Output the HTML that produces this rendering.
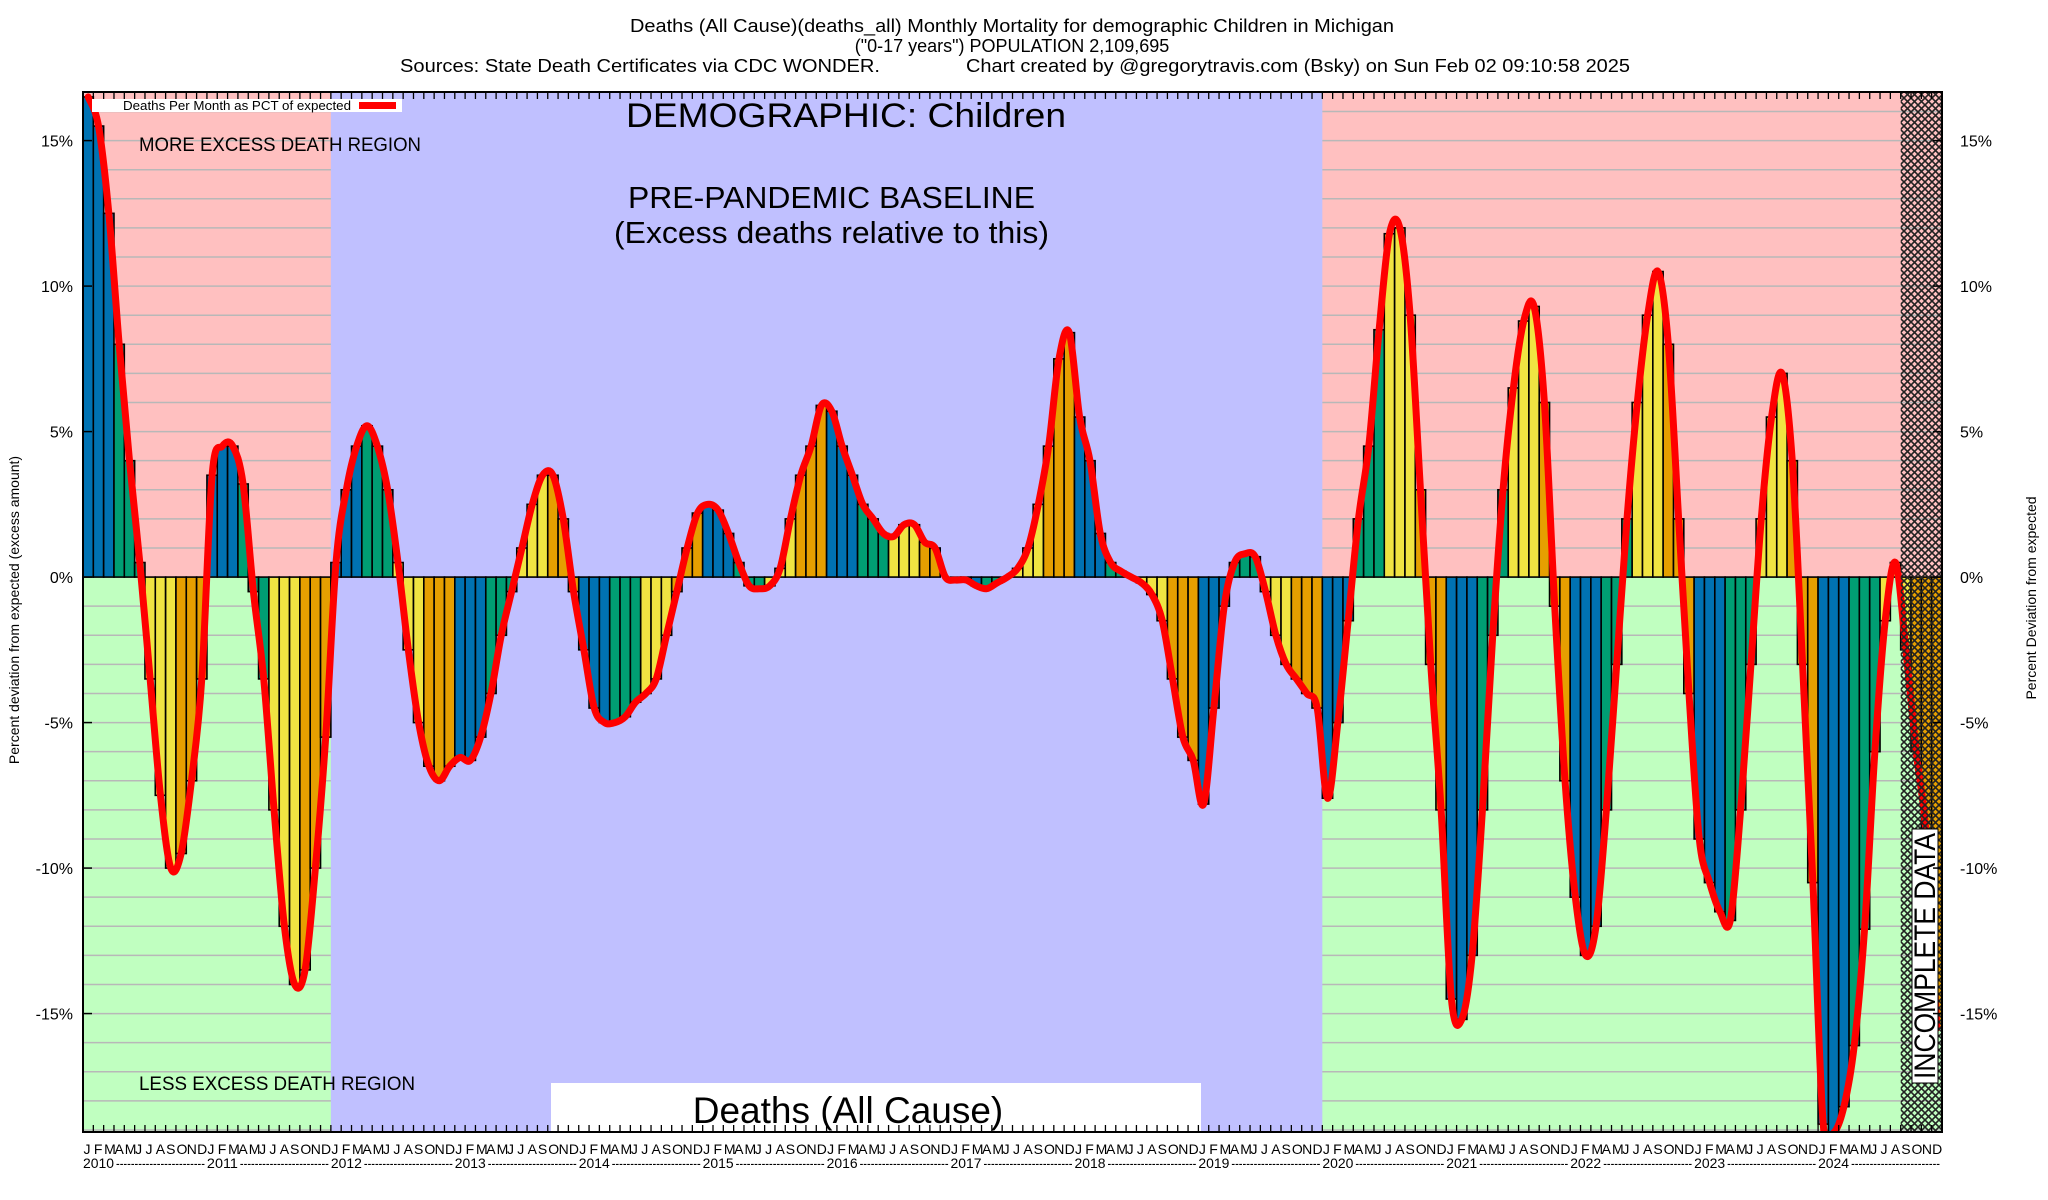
<!DOCTYPE html>
<html><head><meta charset="utf-8"><style>
html,body{margin:0;padding:0;background:#fff;}
svg{display:block;font-family:"Liberation Sans",sans-serif;}
</style></head><body>
<svg id="chart" width="2048" height="1200" viewBox="0 0 2048 1200" xmlns="http://www.w3.org/2000/svg">
<defs>
<pattern id="hatch" width="7" height="7" patternUnits="userSpaceOnUse">
<path d="M0,0 L7,7 M7,0 L0,7" stroke="#222" stroke-width="1.6"/>
</pattern>
<clipPath id="plotclip"><rect x="83" y="92" width="1859" height="1040"/></clipPath>
</defs>
<g font-size="18" text-anchor="middle">
<text x="1012" y="32" textLength="764" lengthAdjust="spacingAndGlyphs">Deaths (All Cause)(deaths_all) Monthly Mortality for demographic Children in Michigan</text>
<text x="1012" y="52">("0-17 years") POPULATION 2,109,695</text>
<text x="400" y="72" text-anchor="start" textLength="480" lengthAdjust="spacingAndGlyphs">Sources: State Death Certificates via CDC WONDER.</text>
<text x="966" y="72" text-anchor="start" textLength="664" lengthAdjust="spacingAndGlyphs">Chart created by @gregorytravis.com (Bsky) on Sun Feb 02 09:10:58 2025</text>
</g>
<g id="bg" clip-path="url(#plotclip)"></g>
<g id="bars" clip-path="url(#plotclip)"></g>
<g id="line" clip-path="url(#plotclip)"></g>
<g id="overlay"></g>
<g id="axes"></g>
</svg>
<script>
const years = ["2010","2011","2012","2013","2014","2015","2016","2017","2018","2019","2020","2021","2022","2023","2024"];
const monthLetters = ["J","F","M","A","M","J","J","A","S","O","N","D"];
const values2010_2014 = [
16.5,15.5,12.5,8,4,0.5,-3.5,-7.5,-10,-9.5,-7,-3.5,
3.5,4.5,4.5,3.2,-0.5,-3.5,-8,-12,-14,-13.5,-10,-5.5,
0.5,3,4.5,5.2,4.5,3,0.5,-2.5,-5,-6.5,-7,-6.5,
-6.2,-6.3,-5.5,-4,-2,-0.5,1,2.5,3.5,3.5,2,-0.5,
-2.5,-4.5,-5,-5,-4.8,-4.3,-4,-3.5,-2,-0.5,1,2.2];
const values2015_2019 = [
2.5,2.3,1.5,0.5,-0.3,-0.4,-0.3,0.3,2,3.5,4.5,5.9,
5.7,4.5,3.5,2.5,2,1.5,1.4,1.8,1.8,1.2,1,0,
-0.1,-0.1,-0.3,-0.4,-0.2,0,0.3,1,2.5,4.5,7.5,8.4,
5.5,4,1.5,0.5,0.2,0,-0.2,-0.6,-1.5,-3.5,-5.5,-6.3,
-7.8,-4.5,-1,0.5,0.8,0.7,-0.5,-2,-3,-3.5,-4,-4.5];
const values2020_2024 = [
-7.6,-5,-1.5,2,4.5,8.5,11.8,12,9,3,-3,-8,
-14.5,-15.2,-13,-8,-2,3,6.5,8.8,9.3,6,-1,-7,
-11,-13,-12,-8,-3,2,6,9,10.5,8,2,-4,
-9,-10.5,-11.5,-11.8,-8,-3,2,5.5,7,4,-3,-10.5,
-18.8,-19.1,-18.2,-16.1,-12.1,-6,-1.5,0.5,-2.5,-6,-9,-15.5];
const yTicks = [15,10,5,0,-5,-10,-15];
const values = values2010_2014.concat(values2015_2019, values2020_2024);

const NS = "http://www.w3.org/2000/svg";
const X0 = 83, X1 = 1942, Y0 = 92, Y1 = 1132;
const YMAX = 16.67, YMIN = -19.07;
const nM = years.length * 12;
const mw = (X1 - X0) / nM;
function xL(i){ return X0 + i * mw; }
function xC(i){ return X0 + (i + 0.5) * mw; }
function yS(v){ return Y0 + (YMAX - v) / (YMAX - YMIN) * (Y1 - Y0); }
function mk(parent, tag, attrs, text){
  const e = document.createElementNS(NS, tag);
  for (const k in attrs) e.setAttribute(k, attrs[k]);
  if (text !== undefined) e.textContent = text;
  parent.appendChild(e);
  return e;
}
const bg = document.getElementById('bg');
const y0 = yS(0);
const xPre = xL(24), xPost = xL(120), xInc = xL(176);
let r;
r = mk(bg,'rect',{x:X0,y:Y0,width:X1-X0,height:y0-Y0,fill:'#ffc0c0'});


r = mk(bg,'rect',{x:X0,y:y0,width:X1-X0,height:Y1-y0,fill:'#c0ffc0'});


for (let v = -19; v <= 16; v++){
  if (v === 0) continue;
  const g = mk(bg,'line',{x1:X0,x2:X1,y1:yS(v),y2:yS(v),stroke:'#b8b8b8','stroke-width':1.5});
  
  
}
r = mk(bg,'rect',{x:xPre,y:Y0,width:xPost-xPre,height:Y1-Y0,fill:'#c0c0ff'});



const colors = ['#0072b2','#009e73','#f0e442','#e69f00'];
const bars = document.getElementById('bars');
values.forEach((v,i)=>{
  const top = Math.min(yS(v), y0), h = Math.abs(yS(v) - y0);
  const b = mk(bars,'rect',{x:xL(i),y:top,width:mw,height:h,fill:colors[Math.floor((i%12)/3)],stroke:'#000','stroke-width':1.6});
  
  
});

// smooth red line
const pts = values.map((v,i)=>[xC(i), yS(v)]);
let d = 'M' + pts[0][0] + ',' + pts[0][1];
for (let i = 0; i < pts.length - 1; i++){
  const p0 = pts[Math.max(0,i-1)], p1 = pts[i], p2 = pts[i+1], p3 = pts[Math.min(pts.length-1,i+2)];
  const c1x = p1[0] + (p2[0]-p0[0])/6, c1y = p1[1] + (p2[1]-p0[1])/6;
  const c2x = p2[0] - (p3[0]-p1[0])/6, c2y = p2[1] - (p3[1]-p1[1])/6;
  d += ' C' + c1x + ',' + c1y + ' ' + c2x + ',' + c2y + ' ' + p2[0] + ',' + p2[1];
}
const ln = mk(document.getElementById('line'),'path',{d:d,fill:'none',stroke:'#ff0000','stroke-width':7,'stroke-linejoin':'round','stroke-linecap':'round'});



const ov = document.getElementById('overlay');
r = mk(ov,'rect',{x:xInc,y:Y0,width:X1-xInc,height:Y1-Y0,fill:'url(#hatch)'});



// legend
const lg = mk(ov,'g',{});


mk(lg,'rect',{x:92,y:99,width:310,height:13,fill:'#fff'});
mk(lg,'text',{x:123,y:110,'font-size':13,textLength:228,lengthAdjust:'spacingAndGlyphs'},'Deaths Per Month as PCT of expected');
mk(lg,'line',{x1:359,x2:396,y1:105.5,y2:105.5,stroke:'#f00','stroke-width':7});

let t;
t = mk(ov,'text',{x:139,y:151,'font-size':19,textLength:282,lengthAdjust:'spacingAndGlyphs'},'MORE EXCESS DEATH REGION');


t = mk(ov,'text',{x:139,y:1090,'font-size':19,textLength:276,lengthAdjust:'spacingAndGlyphs'},'LESS EXCESS DEATH REGION');


t = mk(ov,'text',{x:626,y:127,'font-size':34,textLength:440,lengthAdjust:'spacingAndGlyphs'},'DEMOGRAPHIC: Children');


t = mk(ov,'text',{x:628,y:208,'font-size':31,textLength:407,lengthAdjust:'spacingAndGlyphs'},'PRE-PANDEMIC BASELINE');


t = mk(ov,'text',{x:614,y:243,'font-size':31,textLength:435,lengthAdjust:'spacingAndGlyphs'},'(Excess deaths relative to this)');


r = mk(ov,'rect',{x:551,y:1083,width:650,height:49,fill:'#fff'});


t = mk(ov,'text',{x:848,y:1123,'font-size':37,'text-anchor':'middle'},'Deaths (All Cause)');


r = mk(ov,'rect',{x:1912,y:829,width:26,height:254,fill:'#fff',stroke:'#000','stroke-width':1});


t = mk(ov,'text',{x:0,y:0,'font-size':30,transform:'translate(1935,1079) rotate(-90)',textLength:246,lengthAdjust:'spacingAndGlyphs'},'INCOMPLETE DATA');



// axes
const ax = document.getElementById('axes');
const frame = mk(ax,'rect',{x:X0,y:Y0,width:X1-X0,height:Y1-Y0,fill:'none',stroke:'#000','stroke-width':2});


for (let i = 0; i <= nM; i++){
  const x = xL(i);
  mk(ax,'line',{x1:x,x2:x,y1:Y1,y2:Y1-7,stroke:'#000','stroke-width':1.3});
  mk(ax,'line',{x1:x,x2:x,y1:Y0,y2:Y0+7,stroke:'#000','stroke-width':1.3});
}
for (let i = 0; i < nM; i++){
  const m = mk(ax,'text',{x:xL(i)+0.5,y:1154,'font-size':14},monthLetters[i%12]);
  
  
}
years.forEach((yr,k)=>{
  const xs = xL(k*12), xe = xL(k*12+12);
  const yt = mk(ax,'text',{x:xs,y:1168,'font-size':14,textLength:31,lengthAdjust:'spacingAndGlyphs'},yr);
  
  
  mk(ax,'text',{x:xs+33,y:1168,'font-size':14,textLength:xe-xs-35,lengthAdjust:'spacingAndGlyphs'},'------------------------');
});
yTicks.forEach(v=>{
  const y = yS(v);
  mk(ax,'line',{x1:X0,x2:X0+9,y1:y,y2:y,stroke:'#000','stroke-width':1.5});
  mk(ax,'line',{x1:X1,x2:X1-9,y1:y,y2:y,stroke:'#000','stroke-width':1.5});
  const a = mk(ax,'text',{x:73,y:y+6,'font-size':16,'text-anchor':'end'},v+'%');
  
  
  const b = mk(ax,'text',{x:1960,y:y+6,'font-size':16},v+'%');
  
  
});
t = mk(ax,'text',{x:0,y:0,'font-size':14,'text-anchor':'middle',transform:'translate(19,610) rotate(-90)'},'Percent deviation from expected (excess amount)');


t = mk(ax,'text',{x:0,y:0,'font-size':14,'text-anchor':'middle',transform:'translate(2036,598) rotate(-90)'},'Percent Deviation from expected');


</script>
</body></html>
